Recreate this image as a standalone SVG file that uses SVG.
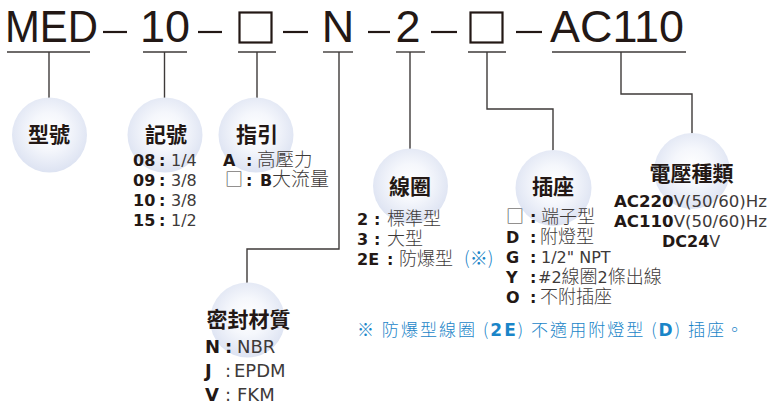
<svg xmlns="http://www.w3.org/2000/svg" width="768" height="408" viewBox="0 0 768 408">
<defs>
<radialGradient id="g" cx="50%" cy="45%" r="55%">
<stop offset="0" stop-color="#ffffff"/>
<stop offset="0.45" stop-color="#f5f7fc"/>
<stop offset="1" stop-color="#dde3f2"/>
</radialGradient>
<style>
.title{font-family:"Liberation Sans","Noto Sans CJK TC",sans-serif;font-size:45px;fill:#231815}
.dash{stroke:#231815;stroke-width:2.2}
.ul{stroke:#3e3a39;stroke-width:1.4;fill:none}
.sq{fill:none;stroke:#231815;stroke-width:2.2}
.con{stroke:#3e3a39;stroke-width:1.4;fill:none}
.bub{fill:url(#g)}
.lab{font-family:"Noto Sans CJK TC","Noto Sans CJK SC",sans-serif;font-weight:bold;font-size:21px;fill:#231815;text-anchor:middle}
.t{font-family:"DejaVu Sans","Liberation Sans","Noto Sans CJK TC",sans-serif;font-size:16px;fill:#3e3a39}
.b{font-weight:bold;fill:#231815}
.cj{font-family:"Noto Sans CJK TC","Noto Sans CJK SC",sans-serif;font-size:18px;font-weight:300}
.blue{fill:#1a85c8}
</style>
</defs>
<rect width="768" height="408" fill="#ffffff"/>

<g id="code">
<text class="title" x="5" y="42" textLength="93" lengthAdjust="spacingAndGlyphs">MED</text>
<line class="dash" x1="103" y1="32" x2="127" y2="32"/>
<text class="title" x="165" y="42" text-anchor="middle">10</text>
<line class="dash" x1="198" y1="32" x2="222" y2="32"/>
<rect class="sq" x="239.5" y="12.5" width="32" height="30"/>
<line class="dash" x1="283" y1="32" x2="308" y2="32"/>
<text class="title" x="338" y="42" text-anchor="middle">N</text>
<line class="dash" x1="368" y1="32" x2="390" y2="32"/>
<text class="title" x="408" y="42" text-anchor="middle">2</text>
<line class="dash" x1="431" y1="32" x2="457" y2="32"/>
<rect class="sq" x="470.5" y="12.5" width="32" height="30"/>
<line class="dash" x1="516" y1="32" x2="542" y2="32"/>
<text class="title" x="550" y="42" textLength="134" lengthAdjust="spacingAndGlyphs">AC110</text>
<line class="ul" x1="7" y1="52" x2="90" y2="52"/>
<line class="ul" x1="143" y1="52" x2="187" y2="52"/>
<line class="ul" x1="238" y1="52" x2="276" y2="52"/>
<line class="ul" x1="323" y1="52" x2="353" y2="52"/>
<line class="ul" x1="396" y1="52" x2="425" y2="52"/>
<line class="ul" x1="468" y1="52" x2="506" y2="52"/>
<line class="ul" x1="552" y1="52" x2="686" y2="52"/>
</g>

<g id="connectors">
<path class="con" d="M49 52V98"/>
<path class="con" d="M164.5 52V98"/>
<path class="con" d="M257 52V98"/>
<path class="con" d="M339 52V249H247V283"/>
<path class="con" d="M410 52V149"/>
<path class="con" d="M487 52V109H553V151"/>
<path class="con" d="M621 52V94H692V134"/>
</g>

<g id="node-model">
<circle class="bub" cx="49.5" cy="135" r="37.5"/>
<text class="lab" x="49" y="142">型號</text>
</g>

<g id="node-size">
<circle class="bub" cx="165" cy="135" r="37.5"/>
<text class="lab" x="166" y="142">記號</text>
<text class="t" y="166"><tspan class="b" x="133">08</tspan><tspan class="b" x="159">:</tspan><tspan x="171">1/4</tspan></text>
<text class="t" y="186"><tspan class="b" x="133">09</tspan><tspan class="b" x="159">:</tspan><tspan x="171">3/8</tspan></text>
<text class="t" y="206"><tspan class="b" x="133">10</tspan><tspan class="b" x="159">:</tspan><tspan x="171">3/8</tspan></text>
<text class="t" y="226"><tspan class="b" x="133">15</tspan><tspan class="b" x="159">:</tspan><tspan x="171">1/2</tspan></text>
</g>

<g id="node-guide">
<circle class="bub" cx="256" cy="135" r="37.5"/>
<text class="lab" x="257" y="142">指引</text>
<text class="t" y="166"><tspan class="b" x="223">A</tspan><tspan class="b" x="246">:</tspan><tspan class="cj" style="font-size:18.5px" x="257">高壓力</tspan></text>
<text class="t" y="186"><tspan class="cj" x="225">□</tspan><tspan class="b" x="246">:</tspan><tspan class="b" x="260">B</tspan><tspan class="cj" style="font-size:19px" x="272">大流量</tspan></text>
</g>

<g id="node-seal">
<circle class="bub" cx="247.5" cy="320" r="37.5"/>
<text class="lab" x="248.5" y="327">密封材質</text>
<text class="t" style="font-size:18px" y="353"><tspan class="b" x="205">N</tspan><tspan class="b" x="225">:</tspan><tspan x="237">NBR</tspan></text>
<text class="t" style="font-size:18px" y="377"><tspan class="b" x="205">J</tspan><tspan x="225">:</tspan><tspan x="234">EPDM</tspan></text>
<text class="t" style="font-size:18px" y="401"><tspan class="b" x="205">V</tspan><tspan x="225">:</tspan><tspan x="237">FKM</tspan></text>
</g>

<g id="node-coil">
<circle class="bub" cx="410.5" cy="186" r="37.5"/>
<text class="lab" x="410" y="194">線圈</text>
<text class="t" y="225"><tspan class="b" x="357">2</tspan><tspan class="b" x="374">:</tspan><tspan class="cj" x="387">標準型</tspan></text>
<text class="t" y="245"><tspan class="b" x="357">3</tspan><tspan class="b" x="374">:</tspan><tspan class="cj" x="387">大型</tspan></text>
<text class="t" y="265"><tspan class="b" x="357">2E</tspan><tspan class="b" x="387">:</tspan><tspan class="cj" x="399">防爆型</tspan><tspan class="cj blue" x="464">(※)</tspan></text>
</g>

<g id="node-socket">
<circle class="bub" cx="553.5" cy="188" r="38"/>
<text class="lab" x="553" y="194">插座</text>
<text class="t" y="223"><tspan class="cj" x="506">□</tspan><tspan class="b" x="530">:</tspan><tspan class="cj" x="541">端子型</tspan></text>
<text class="t" y="243"><tspan class="b" x="506">D</tspan><tspan class="b" x="530">:</tspan><tspan class="cj" x="540">附燈型</tspan></text>
<text class="t" y="263"><tspan class="b" x="506">G</tspan><tspan class="b" x="530">:</tspan><tspan x="541">1/2" NPT</tspan></text>
<text class="t" y="283"><tspan class="b" x="506">Y</tspan><tspan class="b" x="530">:</tspan><tspan x="538">#2</tspan><tspan class="cj">線圈</tspan><tspan>2</tspan><tspan class="cj">條出線</tspan></text>
<text class="t" y="303"><tspan class="b" x="506">O</tspan><tspan class="b" x="530">:</tspan><tspan class="cj" x="540">不附插座</tspan></text>
</g>

<g id="node-voltage">
<circle class="bub" cx="692" cy="171" r="38"/>
<text class="lab" x="691.5" y="181">電壓種類</text>
<text class="t" x="614" y="207" textLength="153" lengthAdjust="spacingAndGlyphs"><tspan class="b">AC220</tspan><tspan>V(50/60)Hz</tspan></text>
<text class="t" x="614" y="227" textLength="153" lengthAdjust="spacingAndGlyphs"><tspan class="b">AC110</tspan><tspan>V(50/60)Hz</tspan></text>
<text class="t" x="662" y="247"><tspan class="b">DC24</tspan><tspan>V</tspan></text>
</g>

<g id="note">
<text class="t blue" style="font-size:17px" x="357" y="336" textLength="386" lengthAdjust="spacing"><tspan class="cj" style="font-size:17px">※ 防爆型線圈 (</tspan><tspan style="font-weight:bold">2E</tspan><tspan class="cj" style="font-size:17px">) 不適用附燈型 (</tspan><tspan style="font-weight:bold">D</tspan><tspan class="cj" style="font-size:17px">) 插座。</tspan></text>
</g>
</svg>
